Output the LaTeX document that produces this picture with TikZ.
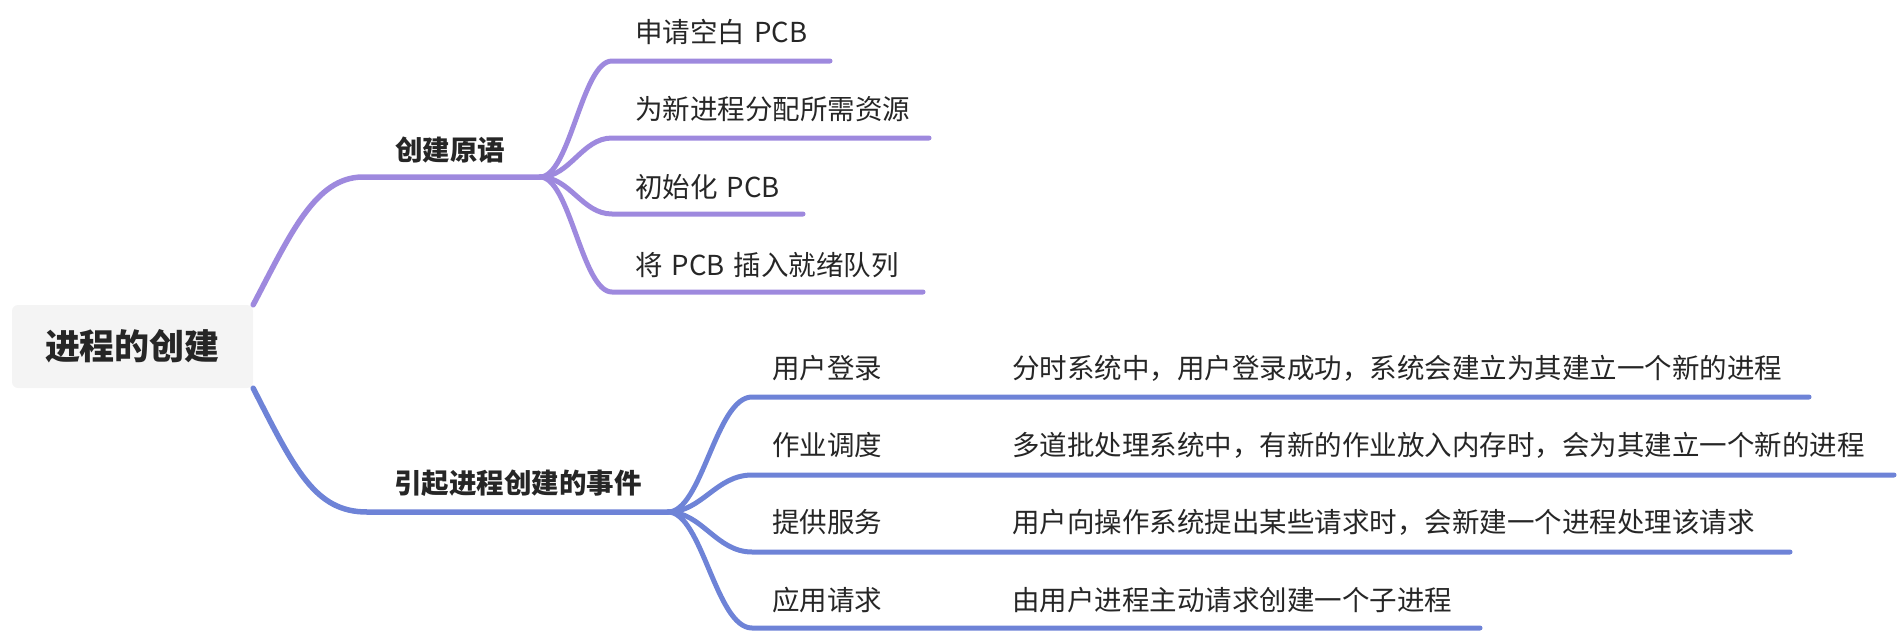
\documentclass[tikz,border=0pt]{standalone}
\usepackage{fontspec}
\setmainfont{Noto Sans CJK SC}
\definecolor{lilac}{HTML}{9E89DE}
\definecolor{steel}{HTML}{6E83D7}
\definecolor{ink}{HTML}{262626}
\definecolor{rootfill}{HTML}{F4F4F4}

\begin{document}
\begin{tikzpicture}[x=1pt, y=-1pt,
  every node/.style={text=ink, inner sep=0pt, font=\fontsize{27.5}{33}\selectfont},
  leaf/.style={anchor=west},
  branch/.style={font=\fontsize{27.5}{33}\selectfont\bfseries},
  wire/.style={line width=5pt, line cap=round}]
  \useasboundingbox (0,0) rectangle (1904,632);

  \node [fill=rootfill, rounded corners=6pt, minimum width=241pt, minimum height=83pt,
    font=\fontsize{35}{42}\selectfont\bfseries] (root) at (132.5,346.5) {进程的创建};

  % creation primitive
  \node [branch] (prim) at (450,150) {创建原语};
  \coordinate (pa) at (363,177);
  \coordinate (pj) at (540,177);
  \draw [wire, line width=5.5pt, lilac] (root.north east) .. controls (290,235) and (315,177) .. (pa) -- (pj);

  \node [leaf] (p1) at (635,32) {申请空白\hspace{0.1em} PCB};
  \node [leaf] (p2) at (635,109) {为新进程分配所需资源};
  \node [leaf] (p3) at (635,187) {初始化\hspace{0.1em} PCB};
  \node [leaf] (p4) at (635,265) {将\hspace{0.1em} PCB\hspace{0.1em} 插入就绪队列};
  \coordinate (p1a) at (612,61);  \coordinate (p1b) at (830,61);
  \coordinate (p2a) at (612,138); \coordinate (p2b) at (929,138);
  \coordinate (p3a) at (612,214); \coordinate (p3b) at (803,214);
  \coordinate (p4a) at (612,292); \coordinate (p4b) at (923,292);
  \draw [wire, lilac] (pj) .. controls (570,177) and (582,61) .. (p1a) -- (p1b);
  \draw [wire, lilac] (pj) .. controls (570,177) and (582,138) .. (p2a) -- (p2b);
  \draw [wire, lilac] (pj) .. controls (570,177) and (582,214) .. (p3a) -- (p3b);
  \draw [wire, lilac] (pj) .. controls (570,177) and (582,292) .. (p4a) -- (p4b);

  % events
  \node [branch] (event) at (518,483) {引起进程创建的事件};
  \coordinate (ea) at (367,512);
  \coordinate (ej) at (668,512);
  \draw [wire, line width=5.5pt, steel] (root.south east) .. controls (295,470) and (315,512) .. (ea) -- (ej);

  \node [leaf] (e1) at (772,368) {用户登录};
  \node [leaf] (e2) at (772,445) {作业调度};
  \node [leaf] (e3) at (772,522) {提供服务};
  \node [leaf] (e4) at (772,600) {应用请求};
  \node [leaf] (d1) at (1012,368) {分时系统中，用户登录成功，系统会建立为其建立一个新的进程};
  \node [leaf] (d2) at (1012,445) {多道批处理系统中，有新的作业放入内存时，会为其建立一个新的进程};
  \node [leaf] (d3) at (1012,522) {用户向操作系统提出某些请求时，会新建一个进程处理该请求};
  \node [leaf] (d4) at (1012,600) {由用户进程主动请求创建一个子进程};
  \coordinate (e1a) at (752,397); \coordinate (e1b) at (1809,397);
  \coordinate (e2a) at (752,475); \coordinate (e2b) at (1894,475);
  \coordinate (e3a) at (752,552); \coordinate (e3b) at (1790,552);
  \coordinate (e4a) at (752,628); \coordinate (e4b) at (1480,628);
  \draw [wire, steel] (ej) .. controls (702,512) and (716,397) .. (e1a) -- (e1b);
  \draw [wire, steel] (ej) .. controls (702,512) and (716,475) .. (e2a) -- (e2b);
  \draw [wire, steel] (ej) .. controls (702,512) and (716,552) .. (e3a) -- (e3b);
  \draw [wire, steel] (ej) .. controls (702,512) and (716,628) .. (e4a) -- (e4b);
\end{tikzpicture}
\end{document}
